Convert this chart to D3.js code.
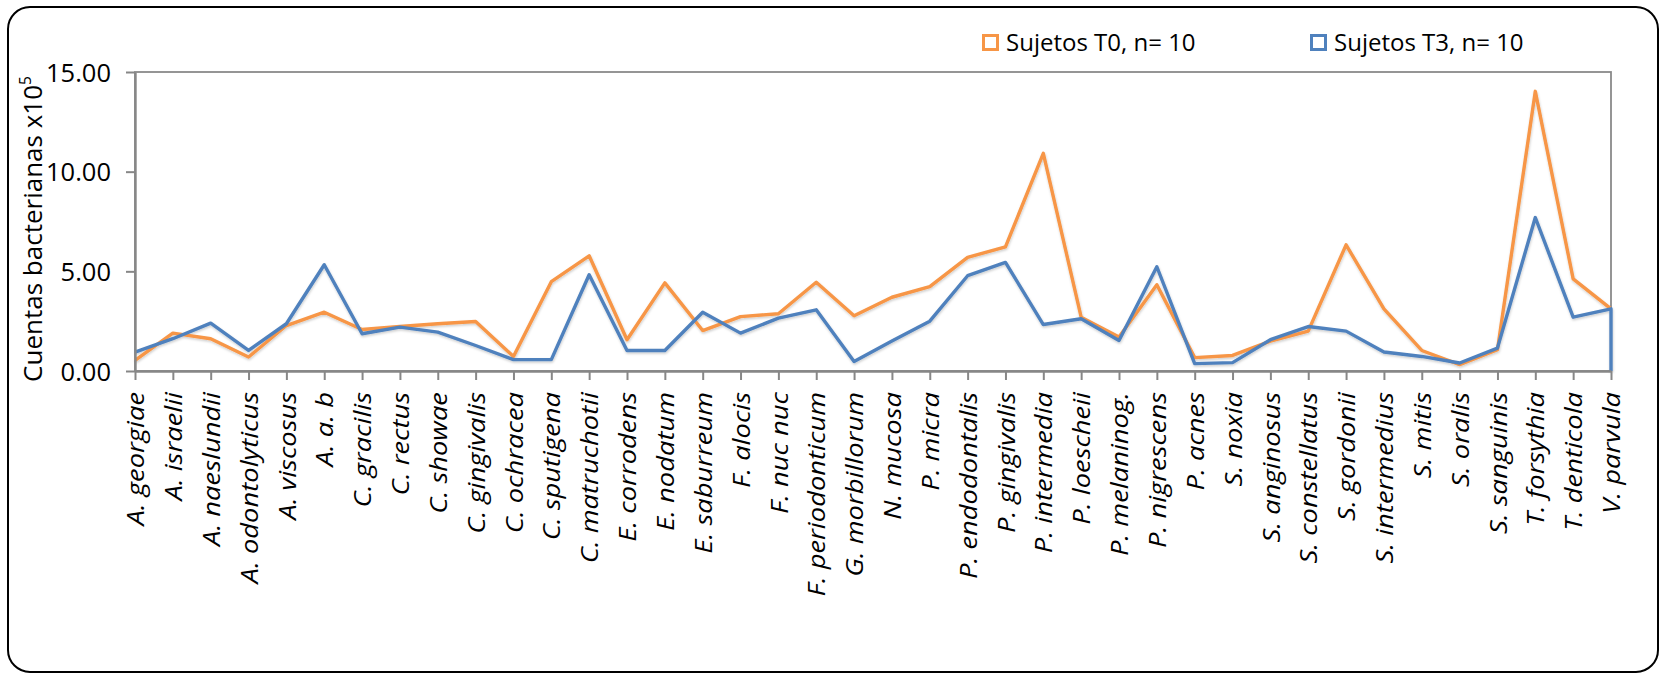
<!DOCTYPE html>
<html>
<head>
<meta charset="utf-8">
<script src="https://cdn.jsdelivr.net/npm/d3@7"></script>
<style>
  html, body { margin: 0; padding: 0; background: #fff; }
  svg { display: block; font-family: 'Open Sans', sans-serif; }
</style>
</head>
<body>
<div id="chart-container"></div>
<script>
const species = [
  'A. georgiae', 'A. israelii', 'A. naeslundii', 'A. odontolyticus', 'A. viscosus',
  'A. a. b', 'C. gracilis', 'C. rectus', 'C. showae', 'C. gingivalis',
  'C. ochracea', 'C. sputigena', 'C. matruchotii', 'E. corrodens', 'E. nodatum',
  'E. saburreum', 'F. alocis', 'F. nuc nuc', 'F. periodonticum', 'G. morbillorum',
  'N. mucosa', 'P. micra', 'P. endodontalis', 'P. gingivalis', 'P. intermedia',
  'P. loescheii', 'P. melaninog.', 'P. nigrescens', 'P. acnes', 'S. noxia',
  'S. anginosus', 'S. constellatus', 'S. gordonii', 'S. intermedius', 'S. mitis',
  'S. oralis', 'S. sanguinis', 'T. forsythia', 'T. denticola', 'V. parvula'
];

const sujetosT0 = [
  0.53, 1.90, 1.62, 0.70, 2.28, 2.95, 2.08, 2.23, 2.37, 2.48,
  0.73, 4.48, 5.78, 1.57, 4.42, 2.03, 2.73, 2.87, 4.45, 2.77,
  3.70, 4.23, 5.70, 6.23, 10.92, 2.70, 1.70, 4.33, 0.67, 0.78,
  1.50, 2.00, 6.33, 3.12, 1.03, 0.32, 1.07, 14.03, 4.62, 3.12
];

const sujetosT3 = [
  0.95, 1.62, 2.40, 1.03, 2.37, 5.33, 1.87, 2.20, 1.95, 1.28,
  0.57, 0.57, 4.83, 1.03, 1.03, 2.95, 1.90, 2.65, 3.07, 0.48,
  1.50, 2.50, 4.78, 5.45, 2.33, 2.62, 1.53, 5.23, 0.37, 0.42,
  1.57, 2.23, 2.00, 0.95, 0.73, 0.40, 1.15, 7.70, 2.70, 3.12
];

const yTickValues = [0, 5, 10, 15];
const seriesNames = ['Sujetos T0, n= 10', 'Sujetos T3, n= 10'];
const seriesColors = ['#F79646', '#4F81BD'];
const yTitle = 'Cuentas bacterianas x10';
const yTitleSup = '5';

displayChart();

function displayChart() {
  const width = 1660;
  const height = 674;
  const plot = { left: 135, right: 1611, top: 72, bottom: 371 };

  const svg = d3.select('#chart-container').append('svg')
      .attr('width', width)
      .attr('height', height)
      .attr('viewBox', `0 0 ${width} ${height}`);

  const defs = svg.append('defs');
  defs.append('filter')
      .attr('id', 'line-shadow')
      .attr('x', '-5%').attr('y', '-5%').attr('width', '110%').attr('height', '120%')
    .append('feDropShadow')
      .attr('dx', 0.5).attr('dy', 1.5)
      .attr('stdDeviation', 1)
      .attr('flood-color', '#000')
      .attr('flood-opacity', 0.2);

  // outer chart border
  svg.append('rect')
      .attr('x', 8).attr('y', 7)
      .attr('width', 1650).attr('height', 665)
      .attr('rx', 22).attr('ry', 22)
      .attr('fill', '#fff')
      .attr('stroke', '#000')
      .attr('stroke-width', 2);

  const scales = getScales(plot);

  // plot area frame
  svg.append('rect')
      .attr('x', plot.left).attr('y', plot.top)
      .attr('width', plot.right - plot.left)
      .attr('height', plot.bottom - plot.top)
      .attr('fill', 'none')
      .attr('stroke', '#8a8a8a')
      .attr('stroke-width', 1.8);

  displayLines(svg, scales);
  displayAxis(svg, scales, plot);
  displayYTitle(svg);
  displayLegend(svg);
}

function getScales(plot) {
  const x = d3.scalePoint(species, [plot.left, plot.right]);
  const y = d3.scaleLinear([0, 15], [plot.bottom, plot.top]);
  return { x, y };
}

function displayLines(svg, scales) {
  const line = d3.line()
      .x(d => scales.x(d.name))
      .y(d => scales.y(d.value));

  const t0 = species.map((name, i) => ({ name, value: sujetosT0[i] }));
  const t3 = species.map((name, i) => ({ name, value: sujetosT3[i] }));
  // the T3 line drops to the baseline after its last point
  t3.push({ name: species[species.length - 1], value: 0 });

  const g = svg.append('g').attr('filter', 'url(#line-shadow)');
  [t0, t3].forEach((data, i) => {
    g.append('path')
        .datum(data)
        .attr('d', line)
        .attr('fill', 'none')
        .attr('stroke', seriesColors[i])
        .attr('stroke-width', 3.4)
        .attr('stroke-linejoin', 'round')
        .attr('stroke-linecap', 'butt');
  });
}

function displayAxis(svg, scales, plot) {
  const yAxis = d3.axisLeft(scales.y)
      .tickValues(yTickValues)
      .tickFormat(d3.format('.2f'))
      .tickSize(9)
      .tickSizeOuter(0)
      .tickPadding(15);

  const yG = svg.append('g')
      .attr('id', 'y-axis')
      .attr('transform', `translate(${plot.left}, 0)`)
      .call(yAxis);
  yG.attr('font-family', null).attr('font-size', null);
  yG.select('.domain').attr('stroke', '#878787').attr('stroke-width', 2.4);
  yG.selectAll('.tick line').attr('stroke', '#878787').attr('stroke-width', 2);
  yG.selectAll('.tick text')
      .attr('fill', '#000')
      .attr('font-size', 25.5)
      .attr('dy', '0.36em');

  const xAxis = d3.axisBottom(scales.x)
      .tickSize(9)
      .tickSizeOuter(0);

  const xG = svg.append('g')
      .attr('id', 'x-axis')
      .attr('transform', `translate(0, ${plot.bottom})`)
      .call(xAxis);
  xG.attr('font-family', null).attr('font-size', null);
  xG.select('.domain').attr('stroke', '#878787').attr('stroke-width', 2.4);
  xG.selectAll('.tick line').attr('stroke', '#878787').attr('stroke-width', 2);
  xG.selectAll('.tick text')
      .attr('fill', '#000')
      .attr('font-size', 24)
      .attr('font-style', 'italic')
      .attr('text-anchor', 'end')
      .attr('x', 0)
      .attr('y', 0)
      .attr('dy', '0.36em')
      .attr('transform', 'translate(0, 21) rotate(-90) scale(1.14, 1)');
}

function displayYTitle(svg) {
  const text = svg.append('text')
      .attr('transform', 'translate(41.5, 229) rotate(-90)')
      .attr('text-anchor', 'middle')
      .attr('font-size', 26)
      .attr('fill', '#000');
  text.append('tspan').text(yTitle);
  text.append('tspan')
      .attr('font-size', 15.5)
      .attr('dy', -11)
      .text(yTitleSup);
}

function displayLegend(svg) {
  const itemX = [982, 1310];
  const legend = svg.append('g').attr('id', 'legend');

  seriesNames.forEach((name, i) => {
    const item = legend.append('g')
        .attr('transform', `translate(${itemX[i]}, 34)`);
    item.append('rect')
        .attr('x', 1.5).attr('y', 1.5)
        .attr('width', 14).attr('height', 14)
        .attr('fill', '#fff')
        .attr('stroke', seriesColors[i])
        .attr('stroke-width', 3);
    item.append('text')
        .attr('x', 24)
        .attr('y', 17)
        .attr('font-size', 24)
        .attr('fill', '#000')
        .text(name);
  });
}
</script>
</body>
</html>
